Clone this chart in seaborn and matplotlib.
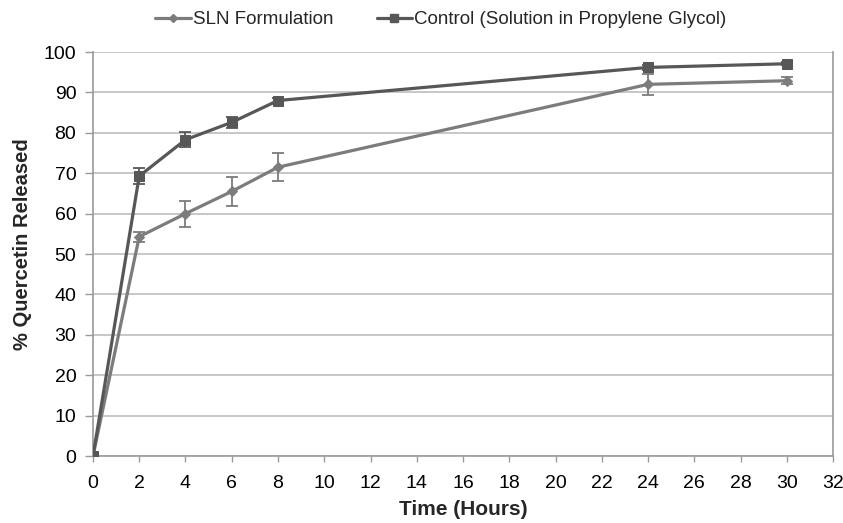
import matplotlib
matplotlib.use("Agg")
import matplotlib.pyplot as plt
import seaborn as sns
import pandas as pd
import numpy as np
from matplotlib.lines import Line2D

time_hours = [0, 2, 4, 6, 8, 24, 30]
sln_values = [0, 54.3, 60.0, 65.5, 71.5, 92.0, 92.9]
sln_err = [0, 1.2, 3.2, 3.6, 3.5, 2.6, 0.8]
ctrl_values = [0, 69.3, 78.3, 82.6, 88.0, 96.2, 97.1]
ctrl_err = [0, 2.0, 1.8, 1.3, 0.6, 0.6, 0.4]
series_names = ["SLN Formulation", "Control (Solution in Propylene Glycol)"]
x_ticks = list(range(0, 33, 2))
y_ticks = list(range(0, 101, 10))

sns.set_style("white")
plt.rcParams['font.family'] = ['Liberation Sans', 'DejaVu Sans']

df = pd.DataFrame({
    "Time": time_hours * 2,
    "Value": sln_values + ctrl_values,
    "Err": sln_err + ctrl_err,
    "Series": [series_names[0]] * len(time_hours) + [series_names[1]] * len(time_hours),
})

colors = {series_names[0]: "#7c7c7c", series_names[1]: "#575757"}
markers = {series_names[0]: "D", series_names[1]: "s"}
sizes = {series_names[0]: 5, series_names[1]: 7}

fig = plt.figure(figsize=(8.43, 5.23), dpi=100)
ax = fig.add_axes([0.1103, 0.128, 0.8779, 0.7725])

ax.set_axisbelow(True)
for y in y_ticks:
    ax.axhline(y, color="#bdbdbd", lw=1.2, zorder=0)

for name in series_names:
    sub = df[df.Series == name]
    ax.errorbar(sub.Time, sub.Value, yerr=sub.Err, fmt="none", ecolor=colors[name],
                elinewidth=1.3, capsize=4, capthick=1.3, zorder=2)

sns.lineplot(data=df, x="Time", y="Value", hue="Series", style="Series",
             palette=colors, markers=markers, dashes=False, ax=ax,
             linewidth=2.3, legend=False, zorder=3)
for line, name in zip(ax.lines[-2:], series_names):
    line.set_markersize(sizes[name])
    line.set_markeredgecolor(colors[name])

ax.set_xlim(0, 32)
ax.set_ylim(0, 100)
ax.set_xticks(x_ticks)
ax.set_yticks(y_ticks)
ax.tick_params(axis="both", labelsize=14, colors="black")
ax.tick_params(axis="y", length=6, color="#9a9a9a", width=1, pad=6, direction="out", left=True)
ax.tick_params(axis="x", length=4, color="#9a9a9a", width=1, pad=9.5, direction="out", bottom=True)
ax.set_xlabel("Time (Hours)", fontsize=15, fontweight="bold", labelpad=6)
ax.set_ylabel("% Quercetin Released", fontsize=14.5, fontweight="bold", labelpad=8)
ax.yaxis.set_label_coords(-0.082, 0.525)

ax.spines["top"].set_visible(False)
for s in ["left", "right", "bottom"]:
    ax.spines[s].set_color("#9a9a9a")
    ax.spines[s].set_linewidth(1.2)
ax.margins(0)

handles = [Line2D([], [], color=colors[n], marker=markers[n], markersize=sizes[n] - 1,
                  lw=2.3) for n in series_names]
fig.legend(handles, series_names, loc="center", bbox_to_anchor=(0.523, 0.962), ncol=2,
           frameon=False, fontsize=13.5, handlelength=1.9, handletextpad=0.1, columnspacing=2.3)

fig.savefig("out.png", dpi=100)
